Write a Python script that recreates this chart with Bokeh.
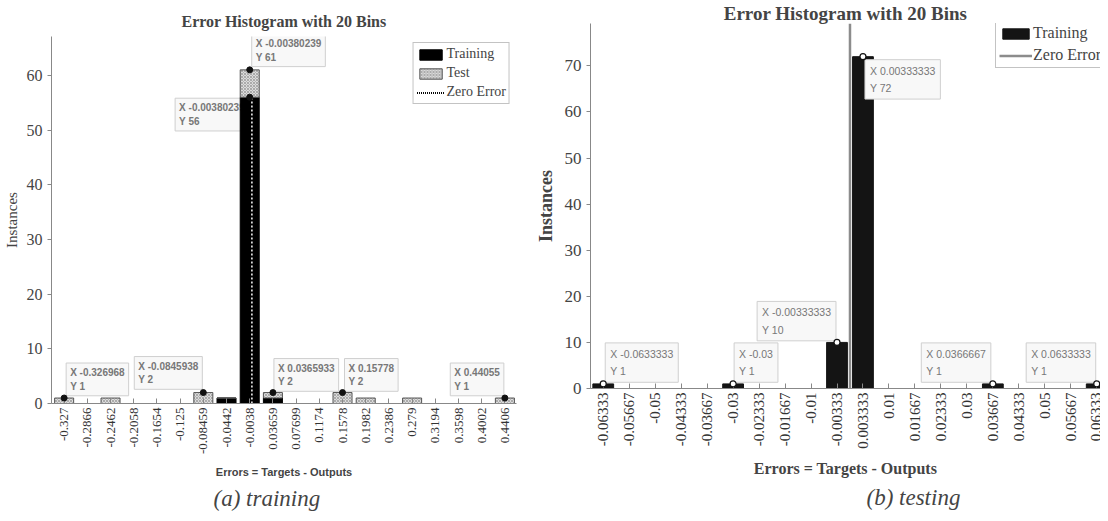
import numpy as np
from bokeh.plotting import figure
from bokeh.layouts import row
from bokeh.models import (Range1d, FixedTicker, Label, Legend, LegendItem, Title,
                          ColumnDataSource)
from bokeh.embed import file_html
from bokeh.resources import INLINE

# ---------------- data: (a) training ----------------
train_tick_labels = ["-0.327", "-0.2866", "-0.2462", "-0.2058", "-0.1654", "-0.125",
                     "-0.08459", "-0.0442", "-0.0038", "0.03659", "0.07699", "0.1174",
                     "0.1578", "0.1982", "0.2386", "0.279", "0.3194", "0.3598",
                     "0.4002", "0.4406"]
train_training = [0, 0, 0, 0, 0, 0, 0, 1, 56, 1, 0, 0, 0, 0, 0, 0, 0, 0, 0, 0]
train_test = [1, 0, 1, 0, 0, 0, 2, 0, 5, 1, 0, 0, 2, 1, 0, 1, 0, 0, 0, 1]
train_tip_x = ["-0.326968", "-0.0845938", "-0.00380239", "-0.00380239",
               "0.0365933", "0.15778", "0.44055"]
train_tip_y = [1, 2, 61, 56, 2, 2, 1]

# ---------------- data: (b) testing ----------------
testing_tick_labels = ["-0.06333", "-0.05667", "-0.05", "-0.04333", "-0.03667", "-0.03",
                       "-0.02333", "-0.01667", "-0.01", "-0.00333", "0.003333", "0.01",
                       "0.01667", "0.02333", "0.03", "0.03667", "0.04333", "0.05",
                       "0.05667", "0.06333"]
testing_training = [1, 0, 0, 0, 0, 1, 0, 0, 0, 10, 72, 0, 0, 0, 0, 1, 0, 0, 0, 1]
testing_tip_x = ["-0.0633333", "-0.03", "-0.00333333", "0.00333333",
                 "0.0366667", "0.0633333"]
testing_tip_y = [1, 1, 10, 72, 1, 1]

# ---------------- styles ----------------
SERIF = "Liberation Serif"
SANS = "Liberation Sans"
# data-tip box corner offset (screen px) from the marked point: (dx, dy, side)
# side "left": (dx, dy) is the box's top-left corner; "right": its top-right corner
train_tip_off = [(2, -35, "left"), (-1, -36, "right"), (2, -36, "left"), (-1, 1, "right"),
                 (1, -34, "left"), (2, -34, "left"), (-1, -35, "right")]
testing_tip_off = [(2, -41, "left"), (1, -41, "left"), (-1, -41, "right"), (2, 3, "left"),
                   (-2, -41, "right"), (-1, -41, "right")]


def base_axes(p, xlabels, xfs, yfs):
    p.frame_align = False
    p.xgrid.visible = False
    p.ygrid.visible = False
    p.outline_line_color = None
    xc = [float(s) for s in xlabels]
    p.xaxis.ticker = FixedTicker(ticks=xc)
    p.xaxis.major_label_overrides = {v: s for v, s in zip(xc, xlabels)}
    p.xaxis.major_label_orientation = np.pi / 2
    p.xaxis.major_label_text_font = SERIF
    p.xaxis.major_label_text_font_size = xfs
    p.xaxis.major_label_text_color = "#333333"
    p.xaxis.major_tick_in = 5
    p.xaxis.major_tick_out = 0
    p.xaxis.minor_tick_line_color = None
    p.xaxis.axis_line_color = "#888888"
    p.xaxis.major_tick_line_color = "#888888"
    p.xaxis.major_label_standoff = 4
    p.yaxis.ticker = FixedTicker(ticks=list(range(0, 80, 10)))
    p.yaxis.major_label_text_font = SERIF
    p.yaxis.major_label_text_font_size = yfs
    p.yaxis.major_label_text_color = "#444444"
    p.yaxis.major_tick_in = 0
    p.yaxis.major_tick_out = 4
    p.yaxis.minor_tick_line_color = None
    p.yaxis.axis_line_color = "#888888"
    p.yaxis.major_tick_line_color = "#888888"
    return xc


def make_tips(xs, ys, offs, fs, style, pad, lh, level="annotation"):
    labs = []
    for xs_, y, (dx, dy, side) in zip(xs, ys, offs):
        labs.append(Label(x=float(xs_), y=y, x_offset=dx, y_offset=-dy,
                          anchor="top_" + side,
                          text=f"X {xs_}\nY {y}", text_font=SANS, text_font_size=fs,
                          text_font_style=style, text_color="#777777",
                          text_align="left", text_baseline="top", text_line_height=lh,
                          background_fill_color="#f8f8f8", border_line_color="#cfcfcf",
                          border_line_width=1, padding=pad, level=level))
    return labs


# ================= (a) training =================
p1 = figure(width=532, height=513, output_backend="svg", toolbar_location=None,
            x_range=Range1d(-0.349, 0.4608), y_range=Range1d(0, 67.1),
            min_border_left=36, min_border_right=16, min_border_top=36,
            min_border_bottom=110)
xc1 = base_axes(p1, train_tick_labels, "13px", "16px")
bw1 = (xc1[-1] - xc1[0]) / (len(xc1) - 1)
src1 = ColumnDataSource(dict(x=xc1, tr=train_training,
                             tot=[a + b for a, b in zip(train_training, train_test)]))

tips1 = make_tips(train_tip_x, train_tip_y, train_tip_off, "10px", "bold", 4, 1.25)
tips1[3].level = "underlay"   # this tip sits partly behind the central bar
for lab in tips1:
    p1.add_layout(lab)

r_tr1 = p1.vbar(x="x", top="tr", bottom=0, width=0.82 * bw1, fill_color="black",
                line_color="black", line_width=1, source=src1)
r_te1 = p1.vbar(x="x", top="tot", bottom="tr", width=0.82 * bw1, fill_color="#dcdcdc",
                hatch_pattern="x", hatch_color="#8a8a8a", hatch_scale=3, hatch_weight=0.6,
                line_color="#555555", line_width=1, source=src1)
p1.segment(x0=[0], y0=[0], x1=[0], y1=[train_training[8]], line_color="white",
           line_dash="2 2", line_width=1.5)
r_zl1 = p1.line(x=[0, 0], y=[0, 0], line_color="black", line_dash="1 1", line_width=2)
p1.scatter([float(s) for s in train_tip_x], train_tip_y, size=6, fill_color="#111111",
           line_color="#111111", level="overlay")

p1.title.text = "Error Histogram with 20 Bins"
p1.title.text_font = SERIF
p1.title.text_font_size = "16px"
p1.title.text_font_style = "bold"
p1.title.align = "center"
p1.title.standoff = 14

p1.yaxis.axis_label = "Instances"
p1.yaxis.axis_label_text_font = SERIF
p1.yaxis.axis_label_text_font_size = "15px"
p1.yaxis.axis_label_text_font_style = "normal"
p1.yaxis.axis_label_standoff = 4

p1.add_layout(Title(text="Errors = Targets - Outputs", align="center", text_font=SANS,
                    text_font_size="11px", text_font_style="bold", standoff=12), "below")
p1.add_layout(Title(text="(a) training", align="left", offset=162, text_font=SERIF,
                    text_font_size="23px", text_font_style="italic", standoff=0), "below")

leg1 = Legend(items=[LegendItem(label="Training", renderers=[r_tr1]),
                     LegendItem(label="Test", renderers=[r_te1]),
                     LegendItem(label="Zero Error", renderers=[r_zl1])],
              location="top_right", margin=6, padding=3, spacing=3,
              glyph_width=28, glyph_height=13, label_height=13, label_standoff=2,
              label_text_font=SERIF, label_text_font_size="14px",
              border_line_color="#888888", background_fill_color="white")
p1.add_layout(leg1)

# ================= (b) testing =================
p2 = figure(width=568, height=513, output_backend="svg", toolbar_location=None,
            x_range=Range1d(-0.0666, 0.0643), y_range=Range1d(0, 79.2),
            min_border_left=50, min_border_right=0, min_border_top=18,
            min_border_bottom=125)
xc2 = base_axes(p2, testing_tick_labels, "15px", "17px")
bw2 = (xc2[-1] - xc2[0]) / (len(xc2) - 1)
src2 = ColumnDataSource(dict(x=xc2, tr=testing_training))
r_tr2 = p2.vbar(x="x", top="tr", bottom=0, width=0.8 * bw2, fill_color="#141414",
                line_color="#141414", line_width=1, source=src2)
r_zl2 = p2.segment(x0=[0], y0=[0], x1=[0], y1=[79.2], line_color="#8c8c8c",
                   line_width=2.5)
for lab in make_tips(testing_tip_x, testing_tip_y, testing_tip_off, "10.5px", "normal",
                     5, 1.45):
    p2.add_layout(lab)
p2.scatter([float(s) for s in testing_tip_x], testing_tip_y, size=6, fill_color="white",
           line_color="#111111", line_width=1.2, level="overlay")

p2.title.text = "Error Histogram with 20 Bins"
p2.title.text_font = SERIF
p2.title.text_font_size = "19px"
p2.title.text_font_style = "bold"
p2.title.align = "center"
p2.title.standoff = 0

p2.yaxis.axis_label = "Instances"
p2.yaxis.axis_label_text_font = SERIF
p2.yaxis.axis_label_text_font_size = "18px"
p2.yaxis.axis_label_text_font_style = "bold"
p2.yaxis.axis_label_standoff = 6

p2.add_layout(Title(text="Errors = Targets - Outputs", align="center", text_font=SERIF,
                    text_font_size="16px", text_font_style="bold", standoff=12), "below")
p2.add_layout(Title(text="(b) testing", align="left", offset=276, text_font=SERIF,
                    text_font_size="23px", text_font_style="italic", standoff=0), "below")

leg2 = Legend(items=[LegendItem(label="Training", renderers=[r_tr2]),
                     LegendItem(label="Zero Error", renderers=[r_zl2])],
              location=(405, 320), margin=0, padding=3, spacing=4,
              glyph_width=33, glyph_height=13, label_height=14, label_standoff=1,
              label_text_font=SERIF, label_text_font_size="16px",
              border_line_color="#888888", background_fill_color="white")
p2.add_layout(leg2)

layout = row(p1, p2)
open("out.html", "w").write(file_html(layout, INLINE))
